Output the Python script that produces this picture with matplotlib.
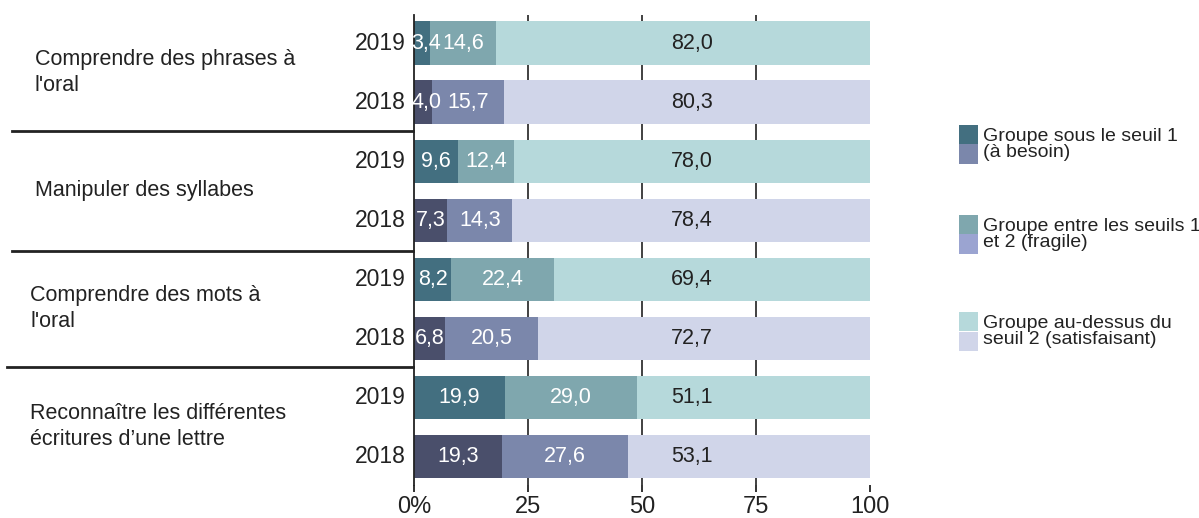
import matplotlib
matplotlib.use("Agg")
import matplotlib.pyplot as plt
from matplotlib.lines import Line2D
from matplotlib.patches import Rectangle

plt.rcParams['font.family'] = ['Liberation Sans', 'DejaVu Sans']

categories = ["Comprendre des phrases à\nl'oral",
              "Manipuler des syllabes",
              "Comprendre des mots à\nl'oral",
              "Reconnaître les différentes\nécritures d’une lettre"]
years = ["2019", "2018"]
# per category: [2019, 2018]
below_s1 = [[3.4, 4.0], [9.6, 7.3], [8.2, 6.8], [19.9, 19.3]]
between = [[14.6, 15.7], [12.4, 14.3], [22.4, 20.5], [29.0, 27.6]]
above_s2 = [[82.0, 80.3], [78.0, 78.4], [69.4, 72.7], [51.1, 53.1]]
xticks = [0, 25, 50, 75, 100]
xticklabels = ["0%", "25", "50", "75", "100"]
legend_labels = ["Groupe sous le seuil 1\n(à besoin)",
                 "Groupe entre les seuils 1\net 2 (fragile)",
                 "Groupe au-dessus du\nseuil 2 (satisfaisant)"]

colors = {"2019": ["#436f80", "#7fa7ae", "#b6d9db"],
          "2018": ["#4a4f6b", "#7b87ab", "#d0d5e9"]}
legend_colors = [["#436f80", "#7b87ab"], ["#7fa7ae", "#9ba4d1"], ["#b6d9db", "#d0d5e9"]]
text_colors = ["white", "white", "#222222"]
TXT = "#222222"
LIGHT_LABEL_X = 61      # labels of the "satisfaisant" segment sit at a common x
MIN_LABEL_X = 2.7       # minimum x for tiny first-segment labels

W, H = 1199, 518
fig = plt.figure(figsize=(W / 100, H / 100), dpi=100)
ax = fig.add_axes([414 / W, 1 - 485 / H, (870 - 414) / W, (485 - 15) / H])

bar_h = 0.73
for ci in range(len(categories)):
    for yi, yr in enumerate(years):
        y = ci * 2 + yi
        vals = [below_s1[ci][yi], between[ci][yi], above_s2[ci][yi]]
        left = 0
        for si, v in enumerate(vals):
            ax.barh(y, v, left=left, height=bar_h, color=colors[yr][si], zorder=2, linewidth=0)
            xc = left + v / 2
            if si == 0:
                xc = max(xc, MIN_LABEL_X)
            elif si == 2:
                xc = LIGHT_LABEL_X
            ax.text(xc, y, f"{v:.1f}".replace(".", ","), ha="center", va="center",
                    color=text_colors[si], fontsize=15.5, zorder=3)
            left += v
        ax.text(-1.8, y, yr, ha="right", va="center", fontsize=16.5, color=TXT)

ax.set_xlim(0, 100)
ax.set_ylim(7.49, -0.475)
ax.set_yticks([])
ax.set_xticks(xticks)
ax.set_xticklabels(xticklabels, fontsize=17, color=TXT)
ax.tick_params(axis="x", length=5, width=1.3, color="#222222", pad=3)
for x in xticks[1:-1]:
    ax.axvline(x, color="#333333", lw=1.3, zorder=1)
for s in ["top", "right", "bottom"]:
    ax.spines[s].set_visible(False)
ax.spines["left"].set_color("#222222")
ax.spines["left"].set_linewidth(1.3)

# category labels
for ci, cat in enumerate(categories):
    ycenter = ci * 2 + 0.5
    ypix = 43 + ycenter * 59
    xpix = 35 if ci < 2 else 30
    fig.text(xpix / W, 1 - ypix / H, cat, ha="left", va="center", fontsize=15.5,
             color=TXT, linespacing=1.35)

# separators
for ypix, x0 in [(131, 12), (251, 12), (367, 7)]:
    fig.add_artist(Line2D([x0 / W, 413 / W], [1 - ypix / H, 1 - ypix / H],
                          color="#222222", lw=2))

# legend
for li, (lab, cols) in enumerate(zip(legend_labels, legend_colors)):
    top = [125, 215, 312][li]
    for k, c in enumerate(cols):
        y0 = top + k * 19.5
        fig.add_artist(Rectangle((959 / W, 1 - (y0 + 19) / H), 19 / W, 19 / H,
                                 transform=fig.transFigure, color=c, lw=0))
    fig.text(983 / W, 1 - (top + 19.5) / H, lab, ha="left", va="center", fontsize=14,
             color=TXT, linespacing=0.95)

fig.savefig("out.png", dpi=100)
